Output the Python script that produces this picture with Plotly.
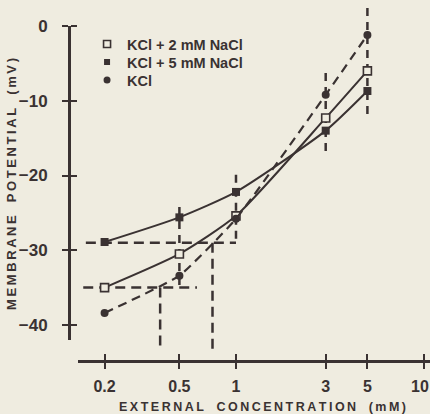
import plotly.graph_objects as go

# External KCl concentration (mM)
conc = [0.2, 0.5, 1, 3, 5]

# Membrane potential (mV) for each bathing solution
kcl = [-38.4, -33.4, -25.8, -9.2, -1.2]
kcl_nacl2 = [-35.0, -30.5, -25.4, -12.3, -6.0]
kcl_nacl5 = [-28.9, -25.6, -22.2, -14.0, -8.7]

# Vertical spread bars (mV) at each concentration
spread_conc = [0.5, 1, 3, 5]
spread_hi = [-24.2, -19.9, -6.3, 2.4]
spread_lo = [-35.0, -28.9, -17.0, -12.2]

# Read-off construction lines: potential level, concentration on the KCl curve,
# and the extent of the horizontal guide
guide_level = [-29.0, -35.0]
guide_conc = [0.75, 0.395]
guide_start = [0.159, 0.154]
guide_end = [1.0, 0.62]
guide_floor = -43.2

x_ticks = [0.2, 0.5, 1, 3, 5, 10]
# trailing en space keeps the last label inside the page edge
x_ticktext = ["0.2", "0.5", "1", "3", "5", "10\u2002"]
y_ticks = [0, -10, -20, -30, -40]
y_ticktext = ["0", "\u221210", "\u221220", "\u221230", "\u221240"]

legend_names = ["KCl + 2 mM NaCl", "KCl + 5 mM NaCl", "KCl"]

INK = "#3a3232"
PAPER = "#efece0"
X_NUM_FONT = dict(family="Liberation Sans Narrow, Liberation Sans", size=16,
                  color=INK, weight="bold")
Y_NUM_FONT = dict(family="Liberation Sans Narrow, Liberation Sans", size=17,
                  color=INK, weight="bold")


def spaced(s):
    return "\u2009".join(s)


fig = go.Figure()

# construction lines
for lvl, c, x0, x1 in zip(guide_level, guide_conc, guide_start, guide_end):
    fig.add_trace(go.Scatter(x=[x0, x1], y=[lvl, lvl], mode="lines",
                             line=dict(color=INK, width=2.5, dash="10px,6px"),
                             showlegend=False, hoverinfo="skip"))
    fig.add_trace(go.Scatter(x=[c, c], y=[lvl, guide_floor], mode="lines",
                             line=dict(color=INK, width=2.5, dash="10px,6px"),
                             showlegend=False, hoverinfo="skip"))

# spread bars
for c, hi, lo in zip(spread_conc, spread_hi, spread_lo):
    fig.add_trace(go.Scatter(x=[c, c], y=[hi, lo], mode="lines",
                             line=dict(color=INK, width=2.5, dash="8px,6px"),
                             showlegend=False, hoverinfo="skip"))

# curves
fig.add_trace(go.Scatter(x=conc, y=kcl_nacl5, mode="lines+markers",
                         line=dict(color=INK, width=2, shape="spline", smoothing=0.6),
                         marker=dict(symbol="square", size=8, color=INK),
                         showlegend=False))
fig.add_trace(go.Scatter(x=conc, y=kcl_nacl2, mode="lines+markers",
                         line=dict(color=INK, width=2, shape="spline", smoothing=0.6),
                         marker=dict(symbol="square", size=8, color=PAPER,
                                     line=dict(color=INK, width=1.6)),
                         showlegend=False))
fig.add_trace(go.Scatter(x=conc, y=kcl, mode="lines+markers",
                         line=dict(color=INK, width=2.2, dash="9px,6px",
                                   shape="spline", smoothing=0.4),
                         marker=dict(symbol="circle", size=8, color=INK),
                         showlegend=False))

# legend entries, one legend box per row
legend_markers = [
    dict(symbol="square", size=7, color=PAPER, line=dict(color=INK, width=1.6)),
    dict(symbol="square", size=6, color=INK),
    dict(symbol="circle", size=7, color=INK),
]
legend_ids = ["legend", "legend2", "legend3"]
for name, mk, lid in zip(legend_names, legend_markers, legend_ids):
    fig.add_trace(go.Scatter(x=[None], y=[None], mode="markers", name=name,
                             marker=mk, legend=lid))

# placeholder so the labelled potential axis is drawn
fig.add_trace(go.Scatter(x=[None], y=[None], yaxis="y2", showlegend=False,
                         hoverinfo="skip"))

legend_style = dict(xanchor="left", yanchor="middle", bgcolor="rgba(0,0,0,0)",
                    borderwidth=0, itemwidth=30,
                    font=dict(family="Liberation Sans", size=14.5, color=INK,
                              weight="bold"))

fig.update_layout(
    width=430, height=414,
    margin=dict(l=69, r=0, t=0, b=53, autoexpand=False),
    paper_bgcolor=PAPER, plot_bgcolor="rgba(0,0,0,0)",
    showlegend=True,
    legend=dict(x=0.05, y=0.878, **legend_style),
    legend2=dict(x=0.05, y=0.828, **legend_style),
    legend3=dict(x=0.05, y=0.778, **legend_style),
    xaxis=dict(type="log", domain=[0.0249, 1], range=[-0.8404, 1.0319],
               anchor="free", position=0, automargin=False,
               showline=True, linewidth=3, linecolor=INK,
               showgrid=False, zeroline=False,
               tickmode="array", tickvals=x_ticks, ticktext=x_ticktext,
               ticks="outside", ticklen=6, tickwidth=2, tickcolor=INK,
               minor=dict(tickmode="array", tickvals=x_ticks, ticks="inside",
                          ticklen=6, tickwidth=2, tickcolor=INK, showgrid=False),
               tickfont=X_NUM_FONT, ticklabelstandoff=4,
               ticklabeloverflow="allow"),
    yaxis=dict(domain=[0, 1], range=[-44.82, 3.48], visible=False,
               automargin=False),
    yaxis2=dict(domain=[0.0582, 0.928], range=[-42.0, 0],
                anchor="free", position=0, automargin=False,
                showline=True, linewidth=3, linecolor=INK,
                showgrid=False, zeroline=False,
                tickmode="array", tickvals=y_ticks, ticktext=y_ticktext,
                ticks="outside", ticklen=6, tickwidth=2, tickcolor=INK,
                minor=dict(tickmode="array", tickvals=y_ticks, ticks="inside",
                           ticklen=6, tickwidth=2, tickcolor=INK, showgrid=False),
                tickfont=Y_NUM_FONT, ticklabelstandoff=11),
    annotations=[
        dict(text=spaced("EXTERNAL") + "\u2003" + spaced("CONCENTRATION") + "\u2003" + spaced("(mM)"),
             xref="paper", yref="paper", x=0.535, y=-0.127,
             xanchor="center", yanchor="middle", showarrow=False,
             font=dict(family="Liberation Sans", size=12.5, color=INK, weight="bold")),
        dict(text=spaced("MEMBRANE") + "\u2003" + spaced("POTENTIAL") + "\u2003" + spaced("(mV)"),
             xref="paper", yref="paper", x=-0.161, y=0.49, textangle=-90,
             xanchor="center", yanchor="middle", showarrow=False,
             font=dict(family="Liberation Sans", size=13, color=INK, weight="bold")),
    ],
)

fig.write_html("out.html")
